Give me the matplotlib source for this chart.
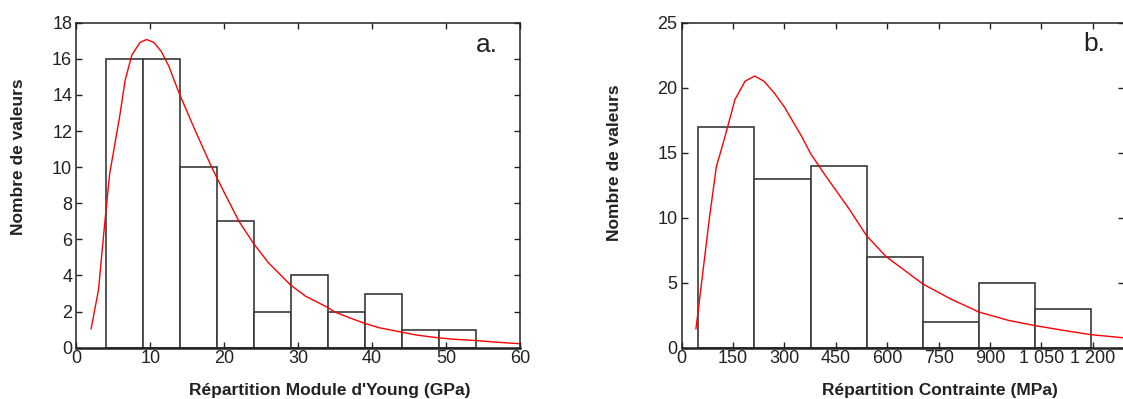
import matplotlib
matplotlib.use("Agg")
import matplotlib.pyplot as plt
import numpy as np

plt.rcParams["font.family"] = ["Liberation Sans", "DejaVu Sans"]

# ---- Data ----
# (a) Young's modulus histogram
young_edges = [4, 9, 14, 19, 24, 29, 34, 39, 44, 49, 54]
young_counts = [16, 16, 10, 7, 2, 4, 2, 3, 1, 1]
# fitted curve
young_fit_x = [2.0, 3.0, 3.8, 4.5, 5.9, 6.6, 7.5, 8.6, 9.5, 10.5, 11.5, 12.5,
               13.9, 16.0, 18.3, 20.0, 22.0, 24.0, 26.0, 28.9, 31.0, 33.9,
               35.0, 37.0, 38.9, 41.0, 43.9, 46.0, 48.9, 51.0, 53.9, 57.0, 60.0]
young_fit_y = [1.05, 3.2, 6.7, 9.6, 12.9, 14.8, 16.2, 16.9, 17.07, 16.9, 16.4, 15.6,
               14.1, 12.1, 10.0, 8.6, 7.0, 5.75, 4.7, 3.5, 2.85, 2.25,
               1.97, 1.65, 1.36, 1.1, 0.87, 0.7, 0.55, 0.47, 0.4, 0.3, 0.22]
young_xticks = [0, 10, 20, 30, 40, 50, 60]
young_yticks = [0, 2, 4, 6, 8, 10, 12, 14, 16, 18]

# (b) stress histogram
stress_edges = [48, 212, 376, 540, 703, 867, 1030, 1194]
stress_counts = [17, 13, 14, 7, 2, 5, 3]
stress_fit_x = [41.6, 51.6, 81, 101, 126, 155.6, 185, 213, 240, 270, 300, 329,
                349, 377, 418, 488, 540, 597, 704, 785, 868, 954, 1031, 1122,
                1195, 1291]
stress_fit_y = [1.46, 3.6, 10.0, 13.9, 16.2, 19.1, 20.5, 20.9, 20.5, 19.6, 18.5, 17.2,
                16.3, 14.9, 13.3, 10.7, 8.6, 7.0, 4.9, 3.75, 2.74, 2.1, 1.7, 1.3,
                1.0, 0.76]
stress_xticks = [0, 150, 300, 450, 600, 750, 900, 1050, 1200]
stress_xticklabels = ["0", "150", "300", "450", "600", "750", "900", "1 050", "1 200"]
stress_yticks = [0, 5, 10, 15, 20, 25]

W, H = 1123, 399
fig = plt.figure(figsize=(W / 100, H / 100), dpi=100)

def px_axes(x0, x1, y0, y1):
    return fig.add_axes([x0 / W, 1 - y1 / H, (x1 - x0) / W, (y1 - y0) / H])

ax1 = px_axes(76.3, 520.0, 22.7, 347.7)
ax2 = px_axes(681.7, 1124.0, 22.7, 347.7)

edge_col = "#3a3a3a"
txt_col = "#222222"

def style(ax):
    for s in ax.spines.values():
        s.set_linewidth(1.1)
        s.set_color("#222222")
    ax.spines["bottom"].set_linewidth(1.8)
    ax.tick_params(direction="in", length=4, width=1, top=True, right=True,
                   labelsize=13, colors=txt_col, pad=2)
    ax.tick_params(axis="y", pad=3)

# (a)
ax1.bar(young_edges[:-1], young_counts, width=np.diff(young_edges), align="edge",
        facecolor="white", edgecolor=edge_col, linewidth=1.2)
ax1.plot(young_fit_x, young_fit_y, color="red", linewidth=1)
ax1.set_xlim(0, 60)
ax1.set_ylim(0, 18)
ax1.set_xticks(young_xticks)
ax1.set_yticks(young_yticks)
style(ax1)
ax1.text(0.926, 0.93, "a.", transform=ax1.transAxes, ha="center", va="center",
         fontsize=19, color=txt_col)

# (b)
ax2.bar(stress_edges[:-1], stress_counts, width=np.diff(stress_edges), align="edge",
        facecolor="white", edgecolor=edge_col, linewidth=1.2)
ax2.plot(stress_fit_x, stress_fit_y, color="red", linewidth=1)
ax2.set_xlim(0, 1291)
ax2.set_ylim(0, 25)
ax2.set_xticks(stress_xticks)
ax2.set_xticklabels(stress_xticklabels)
ax2.set_yticks(stress_yticks)
style(ax2)
ax2.text(0.932, 0.934, "b.", transform=ax2.transAxes, ha="center", va="center",
         fontsize=19, color=txt_col)

# axis titles
lab = dict(ha="center", va="center", fontsize=12.5, fontweight="bold", color=txt_col)
fig.text(330 / W, 1 - 390 / H, "Répartition Module d'Young (GPa)", **lab)
fig.text(940 / W, 1 - 390 / H, "Répartition Contrainte (MPa)", **lab)
fig.text(19 / W, 1 - 157 / H, "Nombre de valeurs", rotation=90, **lab)
fig.text(614.5 / W, 1 - 163 / H, "Nombre de valeurs", rotation=90, **lab)

fig.savefig("out.png", dpi=100)
